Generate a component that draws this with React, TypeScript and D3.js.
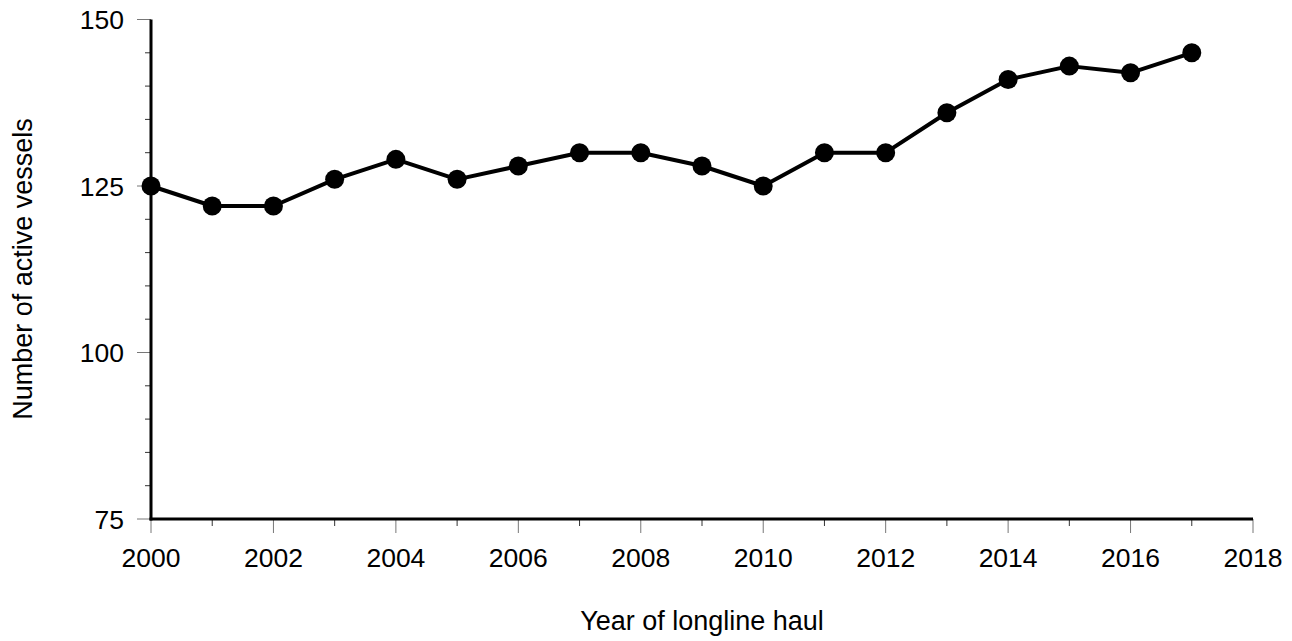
import React from "react";
import * as d3 from "d3";

// Data
const years = [2000, 2001, 2002, 2003, 2004, 2005, 2006, 2007, 2008, 2009, 2010, 2011, 2012, 2013, 2014, 2015, 2016, 2017];
const vessels = [125, 122, 122, 126, 129, 126, 128, 130, 130, 128, 125, 130, 130, 136, 141, 143, 142, 145];
const xMajorTicks = [2000, 2002, 2004, 2006, 2008, 2010, 2012, 2014, 2016, 2018];
const yMajorTicks = [75, 100, 125, 150];

const width = 1292;
const height = 641;
const marginLeft = 151;
const marginRight = 39;
const marginTop = 19.5;
const marginBottom = 122;
const font = "'Liberation Sans', Arial, sans-serif";

const App: React.FC = () => {
  const x = d3.scaleLinear().domain([2000, 2018]).range([marginLeft, width - marginRight]);
  const y = d3.scaleLinear().domain([75, 150]).range([height - marginBottom, marginTop]);

  const line = d3
    .line<number>()
    .x((_, i) => x(years[i]))
    .y((d) => y(d));

  const yBase = y(75);
  const xMinor = d3.range(2000, 2019, 1);
  const yMinor = d3.range(75, 151, 5);

  return (
    <svg
      width={width}
      height={height}
      style={{ position: "absolute", left: 0, top: 0, background: "#fff" }}
    >
      {/* y ticks */}
      {yMinor.map((v) => {
        const major = yMajorTicks.includes(v);
        return (
          <line
            key={`yt${v}`}
            x1={marginLeft - (major ? 14 : 6)}
            x2={marginLeft}
            y1={y(v)}
            y2={y(v)}
            stroke={major ? "#777" : "#333"}
            strokeWidth={1}
          />
        );
      })}
      {yMajorTicks.map((v) => (
        <text
          key={`yl${v}`}
          x={marginLeft - 27}
          y={y(v) + 9.5}
          textAnchor="end"
          fontFamily={font}
          fontSize={26.5}
          fill="#000"
        >
          {v}
        </text>
      ))}
      {/* x ticks */}
      {xMinor.map((v) => {
        const major = xMajorTicks.includes(v);
        return (
          <line
            key={`xt${v}`}
            x1={x(v)}
            x2={x(v)}
            y1={yBase}
            y2={yBase + (major ? 14 : 7)}
            stroke={major ? "#777" : "#333"}
            strokeWidth={1}
          />
        );
      })}
      {xMajorTicks.map((v) => (
        <text
          key={`xl${v}`}
          x={x(v)}
          y={yBase + 48}
          textAnchor="middle"
          fontFamily={font}
          fontSize={26.5}
          fill="#000"
        >
          {v}
        </text>
      ))}
      {/* axis lines */}
      <line x1={marginLeft} x2={marginLeft} y1={marginTop} y2={yBase + 1.5} stroke="#000" strokeWidth={3} />
      <line x1={marginLeft - 1.5} x2={x(2018)} y1={yBase} y2={yBase} stroke="#000" strokeWidth={3} />
      {/* series */}
      <path d={line(vessels) || ""} fill="none" stroke="#000" strokeWidth={4} strokeLinejoin="round" />
      {vessels.map((v, i) => (
        <circle key={`p${i}`} cx={x(years[i])} cy={y(v)} r={9.5} fill="#000" />
      ))}
      {/* titles */}
      <text
        x={702}
        y={630}
        textAnchor="middle"
        fontFamily={font}
        fontSize={27}
        fill="#000"
      >
        Year of longline haul
      </text>
      <text
        transform={`translate(32, 269) rotate(-90)`}
        textAnchor="middle"
        fontFamily={font}
        fontSize={27}
        fill="#000"
      >
        Number of active vessels
      </text>
    </svg>
  );
};

export default App;
